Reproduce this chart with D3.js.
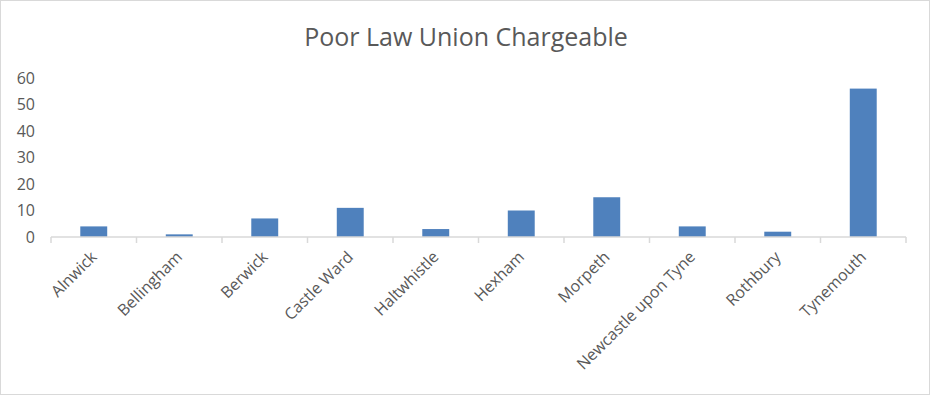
<!DOCTYPE html>
<html>
<head>
<meta charset="utf-8">
<style>
  body { margin: 0; background: #fff; font-family: "Open Sans", sans-serif; }
  .frame { fill: #fff; stroke: #d9d9d9; stroke-width: 1; }
  .title { font-size: 25px; fill: #595959; }
  .tick text { fill: #595959; font-size: 16px; font-family: "Open Sans", sans-serif; }
</style>
</head>
<body>
<script src="https://cdn.jsdelivr.net/npm/d3@7"></script>
<script>
var unions = ["Alnwick", "Bellingham", "Berwick", "Castle Ward", "Haltwhistle",
              "Hexham", "Morpeth", "Newcastle upon Tyne", "Rothbury", "Tynemouth"];
var chargeable = [4, 1, 7, 11, 3, 10, 15, 4, 2, 56];
var yTicks = [0, 10, 20, 30, 40, 50, 60];

var W = 930, H = 395;
var margin = {top: 78, right: 24, bottom: 158, left: 51},
    width = W - margin.left - margin.right,
    height = H - margin.top - margin.bottom;

var svg = d3.select("body").append("svg")
    .attr("width", W)
    .attr("height", H);

svg.append("rect")
    .attr("class", "frame")
    .attr("x", 0.5).attr("y", 0.5)
    .attr("width", W - 1).attr("height", H - 1);

svg.append("text")
    .attr("class", "title")
    .attr("x", 466).attr("y", 46)
    .attr("text-anchor", "middle")
    .text("Poor Law Union Chargeable");

var g = svg.append("g")
    .attr("transform", "translate(" + margin.left + "," + margin.top + ")");

var x = d3.scaleBand().domain(unions).range([0, width]).paddingInner(0.685).paddingOuter(0.3425);
var xb = d3.scaleBand().domain(unions).range([0, width]);
var y = d3.scaleLinear().domain([0, 60]).range([height, 0]);

// y axis: labels only
var yAxis = g.append("g")
    .call(d3.axisLeft(y).tickValues(yTicks).tickSize(0).tickPadding(16));
yAxis.select(".domain").remove();

// bars
g.selectAll(".bar")
    .data(unions)
    .enter().append("rect")
    .attr("class", "bar")
    .attr("x", function(d) { return x(d); })
    .attr("y", function(d, i) { return y(chargeable[i]); })
    .attr("width", x.bandwidth())
    .attr("height", function(d, i) { return height - y(chargeable[i]); })
    .attr("fill", "#4f81bd");

// x axis line + boundary ticks
var xAxis = g.append("g")
    .attr("transform", "translate(0," + height + ")");
xAxis.append("line")
    .attr("x1", 0).attr("x2", width)
    .attr("stroke", "#d9d9d9").attr("stroke-width", 1.5);
xAxis.selectAll(".sep")
    .data(unions.concat([null]))
    .enter().append("line")
    .attr("x1", function(d, i) { return i < unions.length ? xb(d) : width; })
    .attr("x2", function(d, i) { return i < unions.length ? xb(d) : width; })
    .attr("y1", 0).attr("y2", 6)
    .attr("stroke", "#d9d9d9").attr("stroke-width", 1.5);

var labels = g.append("g")
    .attr("transform", "translate(0," + height + ")")
    .call(d3.axisBottom(xb).tickSize(0).tickPadding(0));
labels.select(".domain").remove();
labels.selectAll(".tick text")
    .attr("text-anchor", "end")
    .attr("dy", "0.35em")
    .attr("transform", "translate(0,17) rotate(-45)");
</script>
</body>
</html>
